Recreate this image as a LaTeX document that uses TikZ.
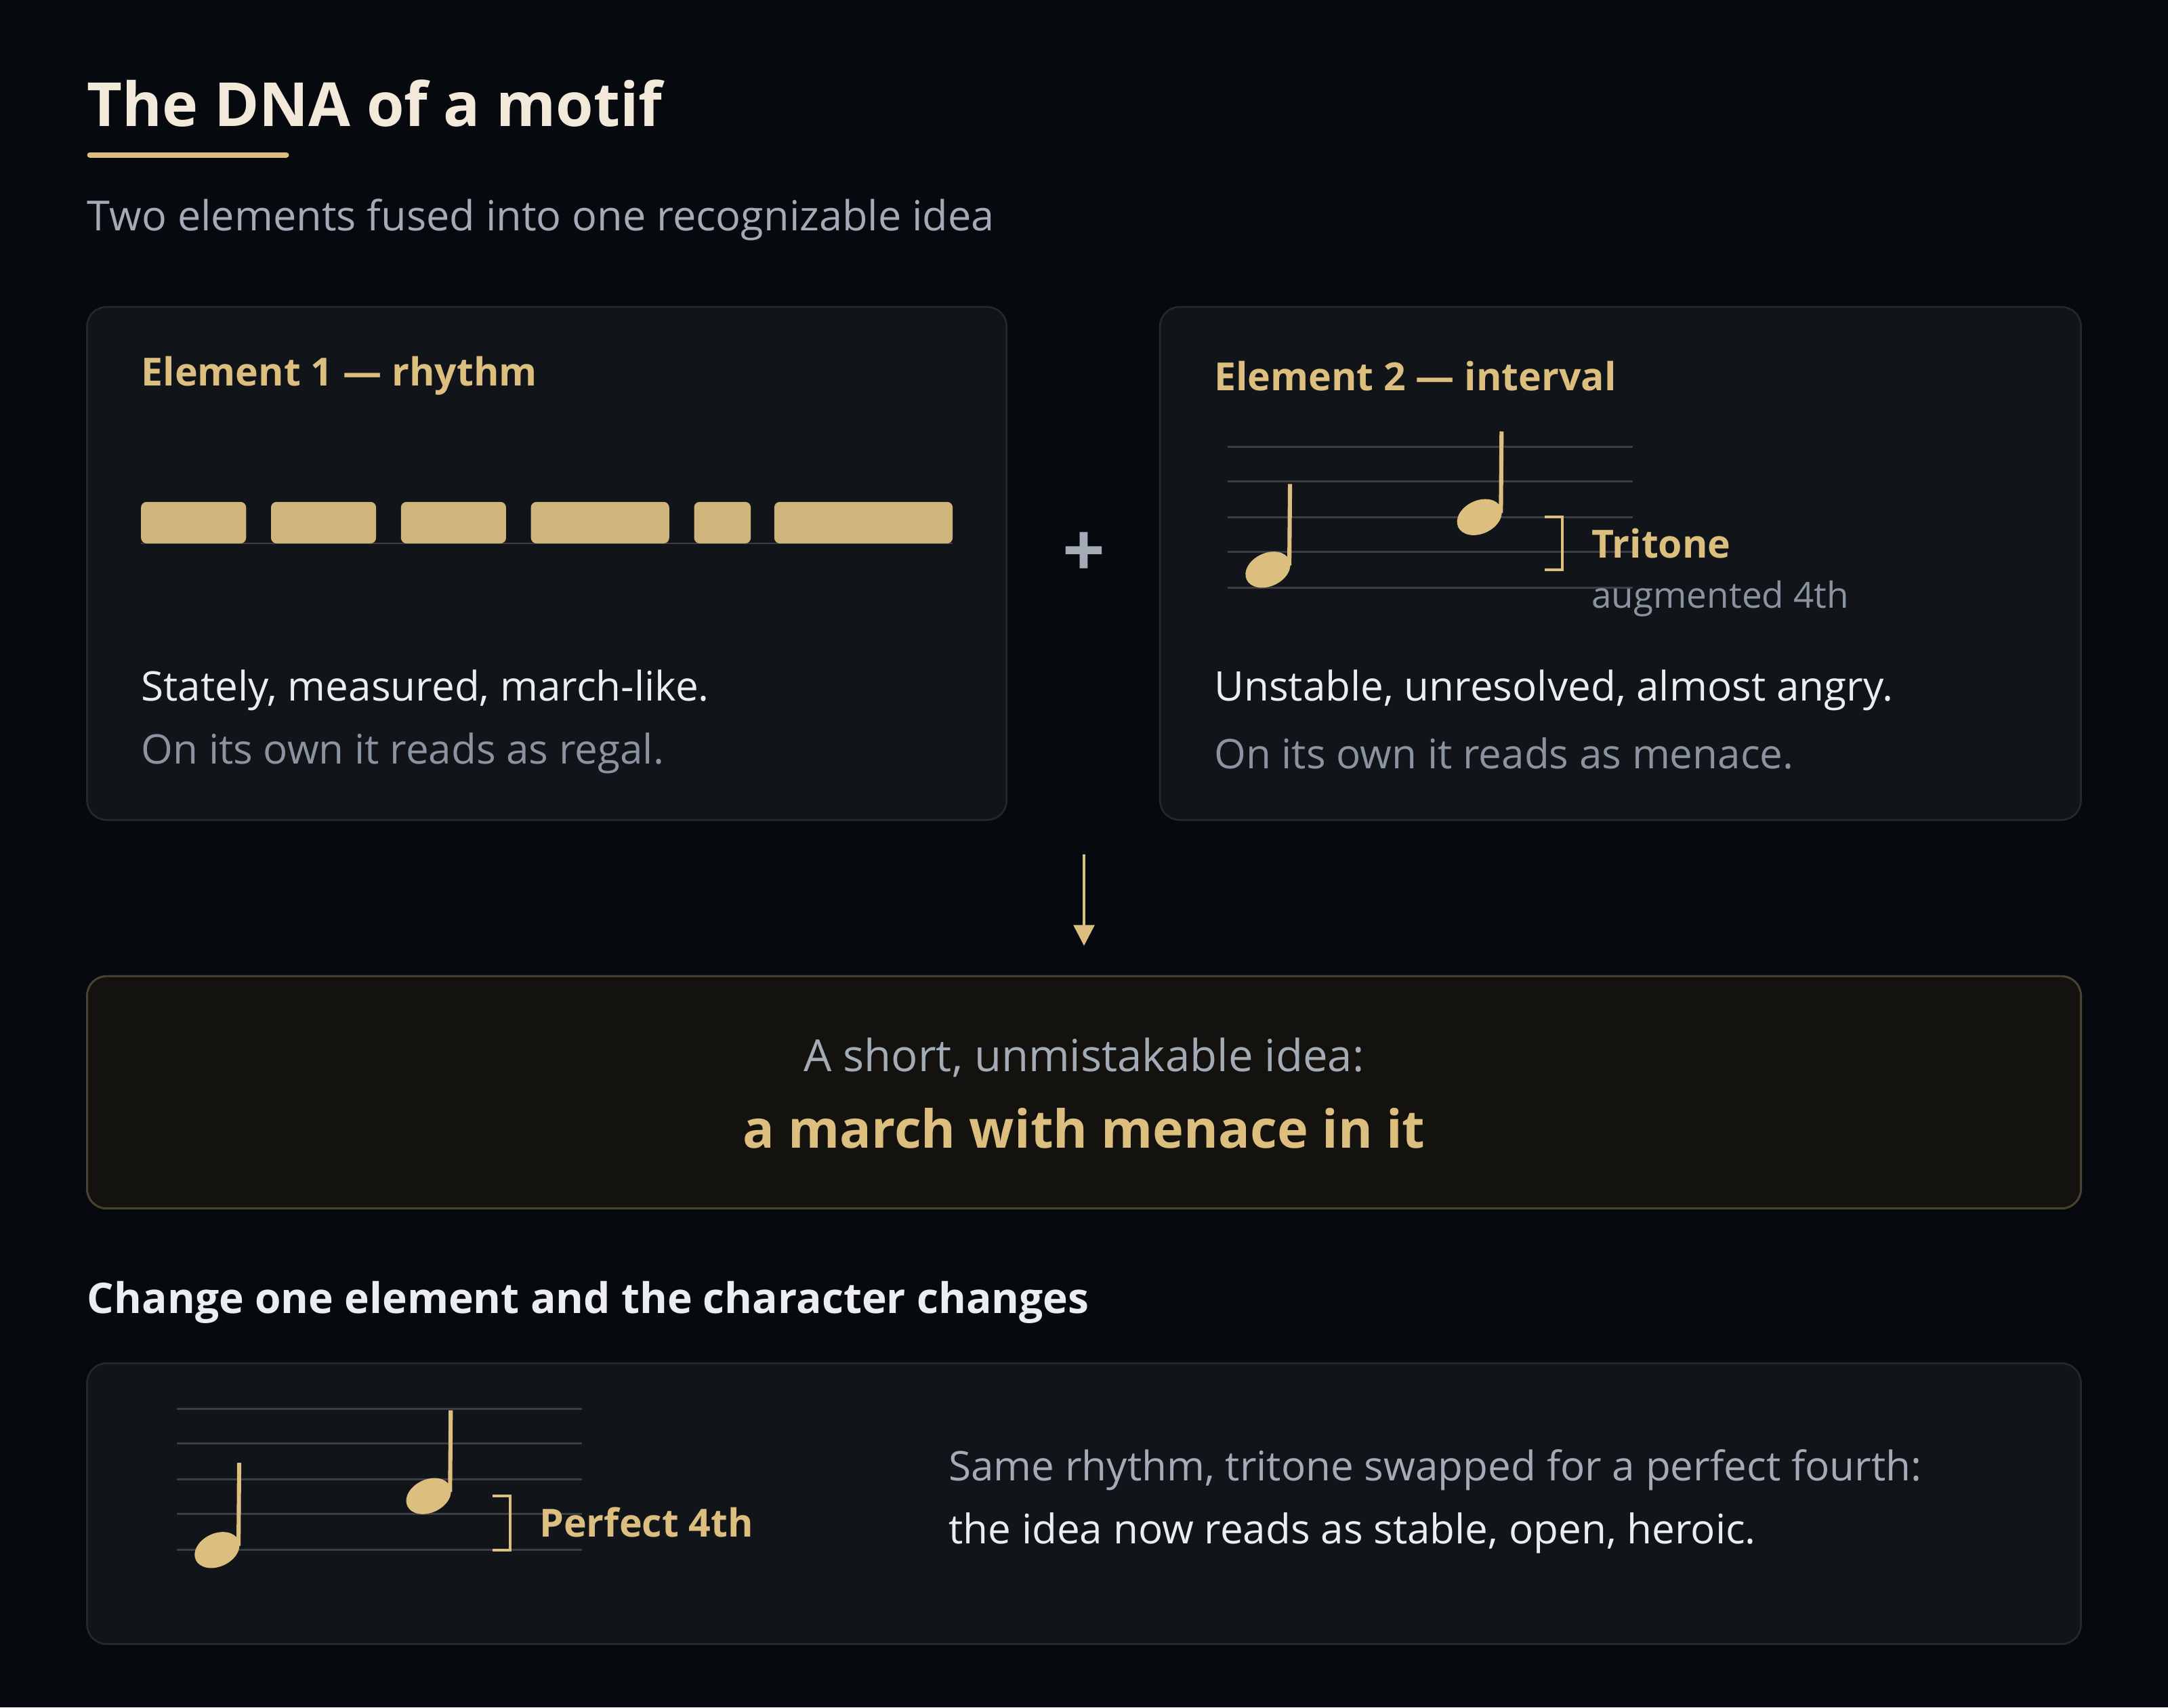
\documentclass[tikz,border=0pt]{standalone}
\usepackage{fontspec}
\setmainfont{Open Sans}
\usetikzlibrary{arrows.meta,positioning}
\definecolor{bg}{HTML}{06090E}
\definecolor{card}{HTML}{111418}
\definecolor{cardline}{HTML}{25292F}
\definecolor{gold}{HTML}{DCBE7E}
\definecolor{barg}{HTML}{CFB57C}
\definecolor{cream}{HTML}{F2E9DA}
\definecolor{soft}{HTML}{A3ABB7}
\definecolor{dim}{HTML}{8A93A0}
\definecolor{ink}{HTML}{ECEDEF}
\definecolor{staffl}{HTML}{3A3E44}
\definecolor{resline}{HTML}{4A4131}
\definecolor{resfill}{HTML}{13120F}
\tikzset{
  card/.style={draw=cardline,fill=card,rounded corners=14pt,line width=1.3pt},
  txt/.style={anchor=west,inner sep=0pt,font=\fontsize{29.5}{34}\selectfont},
  head/.style={txt,text=gold,font=\fontsize{28}{32}\selectfont\bfseries},
  staff/.style={staffl,line width=1.3pt},
  bar/.style={fill=barg,rounded corners=4pt},
}
\newcommand{\notehd}[3]{% name, x, y
  \fill[gold,rotate around={25:(#2,#3)}] (#2,#3) ellipse (17 and 12);
  \coordinate (#1) at (#2+15.5,#3-3);}
\begin{document}
\begin{tikzpicture}[x=1pt,y=-1pt]
  \fill[bg] (0,0) rectangle (1568,1235);
  \useasboundingbox (0,0) rectangle (1568,1235);
  %TITLE
  \node[txt,text=cream,font=\fontsize{44}{50}\selectfont\bfseries] (title) at (63,75) {The DNA of a motif};
  \draw[gold,line width=4pt,line cap=round] (65,112) -- (207,112);
  \node[txt,text=soft,font=\fontsize{30}{34}\selectfont] (sub) at (63,159) {Two elements fused into one recognizable idea};
  %CARD 1
  \draw[card] (63,222) rectangle (728,593);
  \node[head] (e1) at (102,272) {Element 1 — rhythm};
  \draw[staffl,line width=1.3pt] (102,393) -- (689,393);
  \foreach \a/\b in {102/178,196/272,290/366,384/484,502/543,560/689}
    \fill[bar] (\a,363) rectangle (\b,393);
  \node[txt,text=ink] (d1) at (102,499) {Stately, measured, march-like.};
  \node[txt,text=dim] (r1) at (102,545) {On its own it reads as regal.};
  %PLUS
  \node[text=soft,font=\fontsize{54}{58}\selectfont\bfseries] (plus) at (784,401) {+};
  %CARD 2
  \draw[card] (839,222) rectangle (1505,593);
  \node[head] (e2) at (878,272) {Element 2 — interval};
  \foreach \y in {323,348,374,399,425}
    \draw[staff] (888,\y) -- (1181,\y);
  \notehd{n1}{917}{412}
  \draw[gold,line width=3pt] (n1) -- (933,350);
  \notehd{n2}{1070}{374}
  \draw[gold,line width=3pt] (n2) -- (1086,312);
  \draw[gold,line width=2pt] (1117,374) -- (1130,374) -- (1130,412) -- (1117,412);
  \node[head] (tri) at (1151,393) {Tritone};
  \node[txt,text=dim,font=\fontsize{26}{30}\selectfont] (aug) at (1151,433) {augmented 4th};
  \node[txt,text=ink] (d2) at (878,499) {Unstable, unresolved, almost angry.};
  \node[txt,text=dim] (r2) at (878,545) {On its own it reads as menace.};
  %ARROW
  \coordinate (a0) at (784,618);
  \coordinate (a1) at (784,684);
  \draw[gold,line width=2pt,-{Triangle[length=15pt,width=15pt]}] (a0) -- (a1);
  %RESULT
  \draw[draw=resline,fill=resfill,rounded corners=14pt,line width=1.5pt] (63,706) rectangle (1505,874);
  \node[text=soft,inner sep=0pt,font=\fontsize{32}{36}\selectfont] (idea) at (784,765) {A short, unmistakable idea:};
  \node[text=gold,inner sep=0pt,font=\fontsize{38}{42}\selectfont\bfseries] (march) at (784,816) {a march with menace in it};
  %CHANGE
  \node[txt,text=ink,font=\fontsize{30.5}{34}\selectfont\bfseries] (chg) at (63,942) {Change one element and the character changes};
  \draw[card] (63,986) rectangle (1505,1189);
  \foreach \y in {1019,1044,1070,1095,1121}
    \draw[staff] (128,\y) -- (421,\y);
  \notehd{n3}{157}{1121}
  \draw[gold,line width=3pt] (n3) -- (173,1058);
  \notehd{n4}{310}{1082}
  \draw[gold,line width=3pt] (n4) -- (326,1020);
  \draw[gold,line width=2pt] (356,1082) -- (369,1082) -- (369,1121) -- (356,1121);
  \node[head] (p4) at (390,1101) {Perfect 4th};
  \node[txt,text=soft] (s1) at (686,1063) {Same rhythm, tritone swapped for a perfect fourth:};
  \node[txt,text=ink] (s2) at (686,1109) {the idea now reads as stable, open, heroic.};
\end{tikzpicture}
\end{document}
